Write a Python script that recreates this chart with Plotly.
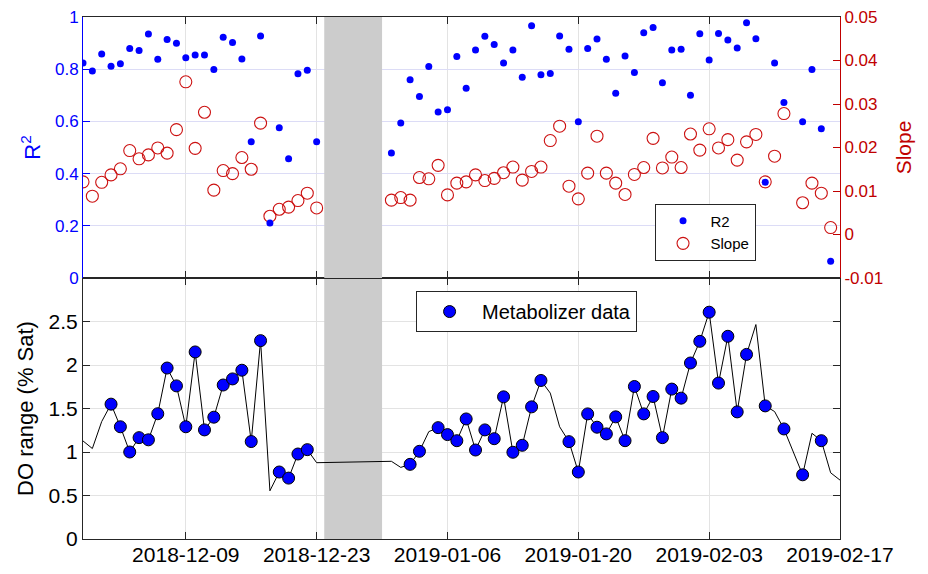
import plotly.graph_objects as go

# ---------------- data ----------------
# top panel (daily fits)
fit_dates = (
    [f"2018-11-{d:02d}" for d in range(28, 31)]
    + [f"2018-12-{d:02d}" for d in range(1, 24)]
    + ["2018-12-31"]
    + [f"2019-01-{d:02d}" for d in range(1, 32)]
    + [f"2019-02-{d:02d}" for d in range(1, 12)]
    + [f"2019-02-{d:02d}" for d in range(13, 17)]
)
r2 = [0.824, 0.793, 0.858, 0.811, 0.821, 0.879, 0.872, 0.935, 0.838, 0.914,
      0.899, 0.844, 0.854, 0.854, 0.799, 0.922, 0.902, 0.839, 0.522, 0.927,
      0.211, 0.576, 0.457, 0.783, 0.796, 0.522,
      0.479, 0.594, 0.760, 0.695, 0.810, 0.636, 0.645, 0.849, 0.727, 0.874,
      0.926, 0.895, 0.824, 0.874, 0.769, 0.966, 0.779, 0.784, 0.927, 0.876,
      0.599, 0.879, 0.916, 0.838, 0.708, 0.851, 0.787, 0.940, 0.960, 0.748,
      0.874, 0.876, 0.700, 0.936, 0.835, 0.937, 0.912, 0.881, 0.978, 0.917,
      0.367, 0.824, 0.672, 0.599, 0.799, 0.572, 0.064]
slope = [0.0121, 0.0088, 0.0120, 0.0137, 0.0151, 0.0193, 0.0174, 0.0183, 0.0199, 0.0187,
         0.0241, 0.0351, 0.0198, 0.0281, 0.0102, 0.0147, 0.0140, 0.0177, 0.0150, 0.0256,
         0.0042, 0.0058, 0.0063, 0.0078, 0.0095, 0.0061,
         0.0079, 0.0085, 0.0079, 0.0131, 0.0128, 0.0159, 0.0091, 0.0118, 0.0121, 0.0137,
         0.0124, 0.0129, 0.0142, 0.0155, 0.0125, 0.0145, 0.0155, 0.0216, 0.0249, 0.0111,
         0.0082, 0.0141, 0.0226, 0.0141, 0.0118, 0.0092, 0.0138, 0.0154, 0.0221, 0.0153,
         0.0178, 0.0154, 0.0231, 0.0194, 0.0243, 0.0199, 0.0218, 0.0171, 0.0213, 0.0230,
         0.0121, 0.0180, 0.0278, 0.0073, 0.0118, 0.0095, 0.0016]

# bottom panel (DO range line)
do_dates = (
    [f"2018-11-{d:02d}" for d in range(28, 31)]
    + [f"2018-12-{d:02d}" for d in range(1, 24)]
    + ["2018-12-31"]
    + [f"2019-01-{d:02d}" for d in range(1, 32)]
    + [f"2019-02-{d:02d}" for d in range(1, 18)]
)
do_range = [1.127, 1.04, 1.35,
            1.55, 1.29, 1.00, 1.165, 1.14, 1.44, 1.965, 1.76, 1.29, 2.15,
            1.254, 1.40, 1.77, 1.84, 1.94, 1.12, 2.28, 0.554, 0.77, 0.70,
            0.977, 1.027, 0.877,
            0.893,
            0.823, 0.858, 1.008, 1.234, 1.28, 1.20, 1.13, 1.38, 1.023, 1.254,
            1.153, 1.634, 0.997, 1.077, 1.519, 1.822, 1.677, 1.29, 1.119, 0.77,
            1.438, 1.285, 1.208, 1.404, 1.13, 1.753, 1.438, 1.638, 1.165, 1.723,
            1.619,
            2.023, 2.272, 2.607, 1.792, 2.33, 1.461, 2.122, 2.465, 1.53, 1.465,
            1.265, 1.003, 0.738, 1.215, 1.13, 0.761, 0.677]

# dates that carry a Metabolizer marker
metab_dates = (
    [f"2018-12-{d:02d}" for d in range(1, 18)]
    + [f"2018-12-{d:02d}" for d in range(19, 23)]
    + ["2019-01-02", "2019-01-03"]
    + [f"2019-01-{d:02d}" for d in range(5, 17)]
    + [f"2019-01-{d:02d}" for d in range(19, 32)]
    + [f"2019-02-{d:02d}" for d in range(1, 8)]
    + ["2019-02-09", "2019-02-11", "2019-02-13", "2019-02-15"]
)
do_lookup = dict(zip(do_dates, do_range))
metab_vals = [do_lookup[d] for d in metab_dates]

gap_start, gap_end = "2018-12-23 19:30", "2018-12-30 00:00"

x_tickvals = ["2018-12-09", "2018-12-23", "2019-01-06", "2019-01-20", "2019-02-03", "2019-02-17"]
x_ticktext = x_tickvals
x_range = ["2018-11-28", "2019-02-17"]

r2_range = [0, 1]
slope_range = [-0.01, 0.05]
do_yrange = [0, 3]
slope_ticks = [-0.01, 0, 0.01, 0.02, 0.03, 0.04, 0.05]
slope_ticktext = ["-0.01", "0", "0.01", "0.02", "0.03", "0.04", "0.05"]
r2_ticks = [0, 0.2, 0.4, 0.6, 0.8, 1]
r2_ticktext = ["0", "0.2", "0.4", "0.6", "0.8", "1"]
do_ticks = [0, 0.5, 1, 1.5, 2, 2.5]
do_ticktext = ["0", "0.5", "1", "1.5", "2", "2.5"]

# ---------------- style ----------------
FONT = "Liberation Sans, Arial, sans-serif"
BLUE = "#0000ff"
RED = "#cc1111"
AXRED = "#c00000"
DARK = "#262626"
GAPGREY = "#cccccc"

fig = go.Figure()

def gap_patch(yr, xa, ya):
    return go.Scatter(
        x=[gap_start, gap_end, gap_end, gap_start, gap_start],
        y=[yr[0], yr[0], yr[1], yr[1], yr[0]],
        mode="lines", fill="toself", fillcolor=GAPGREY, line=dict(width=0, color=GAPGREY),
        xaxis=xa, yaxis=ya, showlegend=False, hoverinfo="skip",
    )

# grey gap patches
fig.add_trace(gap_patch(slope_range, "x2", "y2"))
fig.add_trace(gap_patch(do_yrange, "x", "y"))

# top: slope (base axis y2, right side)
fig.add_trace(go.Scatter(
    x=fit_dates, y=slope, mode="markers", name="Slope",
    marker=dict(symbol="circle-open", size=12, color=RED, line=dict(width=1.1, color=RED)),
    xaxis="x2", yaxis="y2", legend="legend", showlegend=True,
))
# top: R2 (left axis y3 overlaying)
fig.add_trace(go.Scatter(
    x=fit_dates, y=r2, mode="markers", name="R2",
    marker=dict(symbol="circle", size=7, color=BLUE, line=dict(width=0)),
    xaxis="x2", yaxis="y3", legend="legend", showlegend=True,
))
# bottom line
fig.add_trace(go.Scatter(
    x=do_dates, y=do_range, mode="lines", line=dict(color="black", width=1),
    xaxis="x", yaxis="y", showlegend=False, hoverinfo="skip",
))
# bottom markers
fig.add_trace(go.Scatter(
    x=metab_dates, y=metab_vals, mode="markers", name="Metabolizer data",
    marker=dict(symbol="circle", size=12, color=BLUE, line=dict(width=1, color="black")),
    xaxis="x", yaxis="y", legend="legend2", showlegend=True,
))

common_x = dict(
    type="date", range=x_range, tickvals=x_tickvals, ticktext=x_ticktext,
    ticks="inside", ticklen=7, tickcolor=DARK, showline=True, linecolor=DARK,
    linewidth=1, mirror="ticks", showgrid=True, gridcolor="#e3e3e3", gridwidth=1,
    zeroline=False, automargin=False, ticklabeloverflow="allow",
)

fig.update_layout(
    template="none",
    width=920, height=566,
    margin=dict(l=75, r=88, t=9, b=35, pad=0),
    paper_bgcolor="white", plot_bgcolor="white",
    font=dict(family=FONT, color="black"),
    xaxis=dict(**common_x, domain=[0, 1], anchor="y",
               tickfont=dict(size=21, color="black"), ticklabelstandoff=-3),
    xaxis2=dict(**common_x, domain=[0, 1], anchor="y2", matches="x",
                showticklabels=False),
    yaxis=dict(domain=[0, 0.5], anchor="x", range=do_yrange,
               tickvals=do_ticks, ticktext=do_ticktext,
               tickfont=dict(size=21, color="black"),
               title=dict(text="DO range (% Sat)", font=dict(size=22, color="black"), standoff=8),
               ticks="inside", ticklen=7, tickcolor=DARK, showline=True, linecolor=DARK,
               linewidth=1, mirror="ticks", showgrid=True, gridcolor="#e3e3e3",
               zeroline=False, automargin=False, ticklabeloverflow="allow"),
    yaxis2=dict(domain=[0.5, 1], anchor="x2", side="right", range=slope_range,
                tickvals=slope_ticks, ticktext=slope_ticktext,
                tickfont=dict(size=17, color=AXRED),
                title=dict(text="Slope", font=dict(size=21, color=AXRED), standoff=14),
                ticks="inside", ticklen=7, tickcolor=AXRED, showline=True, linecolor=AXRED,
                linewidth=1, showgrid=False, zeroline=False, automargin=False,
                ticklabeloverflow="allow"),
    yaxis3=dict(overlaying="y2", anchor="x2", side="left", range=r2_range,
                tickvals=r2_ticks, ticktext=r2_ticktext,
                tickfont=dict(size=17, color=BLUE),
                title=dict(text="R<sup>2</sup>", font=dict(size=22, color=BLUE), standoff=8),
                ticks="inside", ticklen=7, tickcolor=BLUE, showline=True, linecolor=BLUE,
                linewidth=1, showgrid=True, gridcolor="#dcdcf6", zeroline=False,
                automargin=False, ticklabeloverflow="allow"),
    legend=dict(x=0.755, y=0.6425, xanchor="left", yanchor="top",
                bgcolor="white", bordercolor=DARK, borderwidth=1,
                font=dict(size=15, color="black"), itemwidth=45,
                tracegroupgap=0, traceorder="reversed"),
    legend2=dict(x=0.44, y=0.475, xanchor="left", yanchor="top",
                 bgcolor="white", bordercolor=DARK, borderwidth=1,
                 font=dict(size=20, color="black"), itemwidth=55),
)

fig.write_html("out.html")
